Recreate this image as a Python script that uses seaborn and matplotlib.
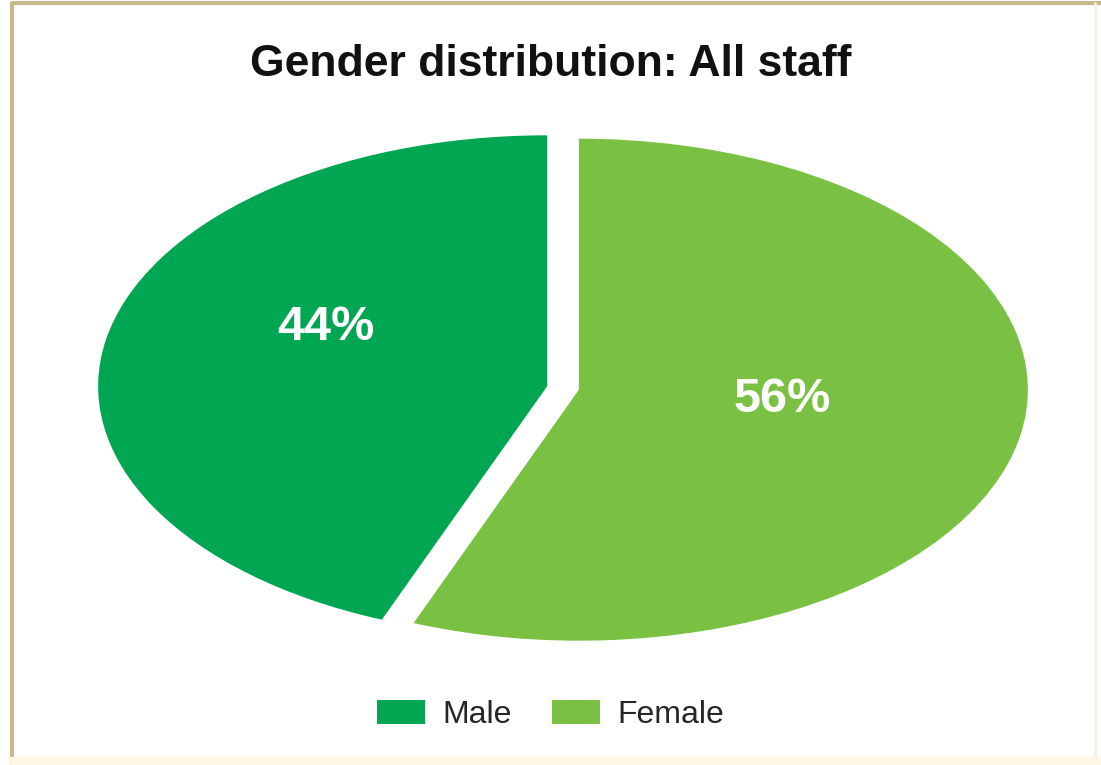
import matplotlib
matplotlib.use('Agg')
import matplotlib.pyplot as plt
import seaborn as sns
from matplotlib.lines import Line2D

categories = ['Male', 'Female']
shares = [44, 56]
pct_labels = ['44%', '56%']
colors = ['#00A651', '#7AC143']
title = 'Gender distribution: All staff'

sns.set_theme(style='white')
plt.rcParams['font.family'] = ['Liberation Sans', 'DejaVu Sans']

W, H = 1101, 765
fig = plt.figure(figsize=(W / 100, H / 100), dpi=100)
fig.patch.set_facecolor('white')

# pie geometry (pixels)
cx, cy = 563, 388
rx, ry = 449, 251
ax_w, ax_h = 1000, 560
ax = fig.add_axes([(cx - ax_w / 2) / W, 1 - (cy + ax_h / 2) / H, ax_w / W, ax_h / H])
wedges, _ = ax.pie(shares, colors=colors, startangle=90, counterclock=True,
                   explode=[0.036, 0.036], wedgeprops=dict(linewidth=0))
ax.set_aspect('auto')
ax.set_xlim(-ax_w / 2 / rx, ax_w / 2 / rx)
ax.set_ylim(-ax_h / 2 / ry, ax_h / 2 / ry)
ax.axis('off')

label_pos = [((326 - cx) / rx, (cy - 328) / ry), ((782 - cx) / rx, (cy - 400) / ry)]
for (x, y), t in zip(label_pos, pct_labels):
    ax.text(x, y, t, ha='center', va='center', color='white',
            fontsize=35, fontweight='bold')

fig.text(0.5, 1 - 64 / H, title, ha='center', va='center',
         fontsize=32, fontweight='bold', color='#111111')

fig.legend(handles=wedges, labels=categories, loc='center',
           bbox_to_anchor=(0.5, 1 - 715 / H), ncol=2, frameon=False,
           fontsize=23, handlelength=1.5, handleheight=0.8,
           handletextpad=0.55, columnspacing=1.25)

# frame
tan = '#C9B98A'
fig.add_artist(Line2D([12 / W, 12 / W], [0, 1 - 3 / H], color=tan, lw=3))
fig.add_artist(Line2D([12 / W, 1], [1 - 3 / H, 1 - 3 / H], color=tan, lw=3))
fig.add_artist(Line2D([1095 / W, 1095 / W], [0, 1 - 3 / H], color='#F4F1E0', lw=2))
fig.add_artist(Line2D([12 / W, 1], [4 / H, 4 / H], color='#FDF8E4', lw=6))

fig.savefig('out.png', dpi=100, facecolor='white')
